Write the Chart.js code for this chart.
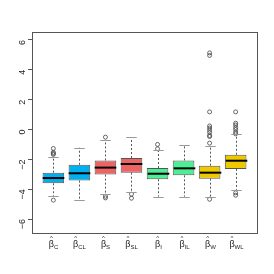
<!DOCTYPE html>
<html>
<head>
<meta charset="utf-8">
<script src="https://cdn.jsdelivr.net/npm/chart.js@4.4.1/dist/chart.umd.min.js"></script>
<style>
  html, body { margin: 0; padding: 0; background: #fff; }
  #wrap { width: 274px; height: 274px; }
</style>
</head>
<body>
<div id="wrap"><canvas id="chart"></canvas></div>
<script>
// estimator subscripts (x labels are beta-hat with these)
let subs = ['C', 'CL', 'S', 'SL', 'I', 'IL', 'W', 'WL']
let lowerQ = [-3.60, -3.42, -3.02, -2.89, -3.33, -3.07, -3.29, -2.64]
let upperQ = [-2.89, -2.36, -2.07, -1.91, -2.58, -2.07, -2.42, -1.69]
let medians = [-3.25, -2.93, -2.55, -2.31, -2.96, -2.60, -2.89, -2.09]
let whiskLo = [-4.45, -4.69, -4.31, -4.20, -4.49, -4.49, -4.49, -4.04]
let whiskHi = [-1.85, -1.22, -0.69, -0.51, -1.40, -1.02, -1.13, -0.33]
let outliers = [
    [-1.27, -1.53, -1.60, -1.67, -4.73],
    [],
    [-0.51, -4.47, -4.58],
    [-4.33, -4.60],
    [-1.00, -1.29],
    [],
    [5.13, 4.96, 1.18, 0.24, 0.10, -0.05, -0.20, -0.40, -0.47, -0.91, -4.67],
    [1.18, 0.42, 0.30, 0.13, 0.00, -0.18, -0.29, -4.24, -4.40]
]
let yTicks = [-6, -4, -2, 0, 2, 4, 6]
let boxColors = ['#00B0EE', '#00B0EE', '#EE6464', '#EE6464', '#4EEE94', '#4EEE94', '#EEC900', '#EEC900']

let boxData = []
let outlierData = []
for (let i = 0; i < subs.length; i++) {
    boxData.push({ x: i + 1, y: [lowerQ[i], upperQ[i]] })
    for (let v of outliers[i]) {
        outlierData.push({ x: i + 1, y: v })
    }
}

// whiskers, medians, frame and the beta-hat labels
var boxExtras = {
    id: 'boxExtras',
    afterDatasetsDraw(chart) {
        let ctx = chart.ctx
        let xs = chart.scales.x
        let ys = chart.scales.y
        let area = chart.chartArea
        let unit = xs.getPixelForValue(2) - xs.getPixelForValue(1)
        let halfBox = unit * 0.83 / 2
        let halfCap = unit * 0.2
        ctx.save()
        for (let i = 0; i < subs.length; i++) {
            let x = Math.round(xs.getPixelForValue(i + 1)) + 0.5
            // dashed whisker lines
            ctx.strokeStyle = '#555'
            ctx.lineWidth = 1
            ctx.setLineDash([2, 2])
            ctx.beginPath()
            ctx.moveTo(x, ys.getPixelForValue(upperQ[i]))
            ctx.lineTo(x, ys.getPixelForValue(whiskHi[i]))
            ctx.moveTo(x, ys.getPixelForValue(lowerQ[i]))
            ctx.lineTo(x, ys.getPixelForValue(whiskLo[i]))
            ctx.stroke()
            ctx.setLineDash([])
            // caps
            ctx.strokeStyle = '#999'
            ctx.beginPath()
            let yh = Math.round(ys.getPixelForValue(whiskHi[i])) + 0.5
            let yl = Math.round(ys.getPixelForValue(whiskLo[i])) + 0.5
            ctx.moveTo(x - halfCap, yh)
            ctx.lineTo(x + halfCap, yh)
            ctx.moveTo(x - halfCap, yl)
            ctx.lineTo(x + halfCap, yl)
            ctx.stroke()
            // median
            ctx.strokeStyle = '#000'
            ctx.lineWidth = 2
            ctx.beginPath()
            let ym = ys.getPixelForValue(medians[i])
            ctx.moveTo(x - halfBox, ym)
            ctx.lineTo(x + halfBox, ym)
            ctx.stroke()

            // label: hat, beta, subscript
            ctx.fillStyle = '#222'
            ctx.font = '9px "Liberation Sans", Arial, sans-serif'
            let wb = ctx.measureText('β').width
            ctx.font = '6px "Liberation Sans", Arial, sans-serif'
            let ws = ctx.measureText(subs[i]).width
            let x0 = x - (wb + ws) / 2
            ctx.textBaseline = 'alphabetic'
            ctx.textAlign = 'left'
            ctx.font = '9px "Liberation Sans", Arial, sans-serif'
            ctx.fillText('β', x0, 247)
            ctx.font = '6px "Liberation Sans", Arial, sans-serif'
            ctx.fillText(subs[i], x0 + wb, 249)
            ctx.textAlign = 'center'
            ctx.fillText('^', x0 + wb / 2, 240)
        }
        // frame
        ctx.strokeStyle = '#555'
        ctx.lineWidth = 1
        ctx.strokeRect(Math.round(area.left) + 0.5, Math.round(area.top) + 0.5,
            Math.round(area.right - area.left), Math.round(area.bottom - area.top))
        ctx.restore()
    }
}

new Chart(document.getElementById('chart'), {
    type: 'bar',
    data: {
        datasets: [
            {
                label: 'boxes',
                data: boxData,
                backgroundColor: boxColors,
                borderColor: '#555',
                borderWidth: 1,
                borderSkipped: false,
                barPercentage: 0.83,
                categoryPercentage: 1
            },
            {
                type: 'scatter',
                label: 'outliers',
                data: outlierData,
                pointStyle: 'circle',
                pointRadius: 2,
                pointBorderColor: '#444',
                pointBorderWidth: 0.8,
                pointBackgroundColor: 'rgba(0,0,0,0)'
            }
        ]
    },
    options: {
        responsive: true,
        maintainAspectRatio: false,
        animation: false,
        layout: { padding: { left: 0, top: 32, right: 17, bottom: 0 } },
        plugins: { legend: { display: false }, tooltip: { enabled: false } },
        scales: {
            x: {
                type: 'linear',
                min: 0.18,
                max: 8.82,
                offset: false,
                grid: { display: false },
                border: { display: false },
                ticks: { display: false },
                afterFit: function(scale) { scale.height = 41 }
            },
            y: {
                min: -6.93,
                max: 6.53,
                grid: { display: true, drawOnChartArea: false, color: '#555', tickLength: 4 },
                border: { display: false },
                afterBuildTicks: function(scale) {
                    scale.ticks = yTicks.map(v => ({ value: v }))
                },
                ticks: {
                    minRotation: 90,
                    maxRotation: 90,
                    padding: 5,
                    color: '#222',
                    font: { family: '"Liberation Sans", Arial, sans-serif', size: 9 },
                    callback: v => String(v).replace('-', '−')
                },
                afterFit: function(scale) { scale.width = 32 }
            }
        }
    },
    plugins: [boxExtras]
})
</script>
</body>
</html>
